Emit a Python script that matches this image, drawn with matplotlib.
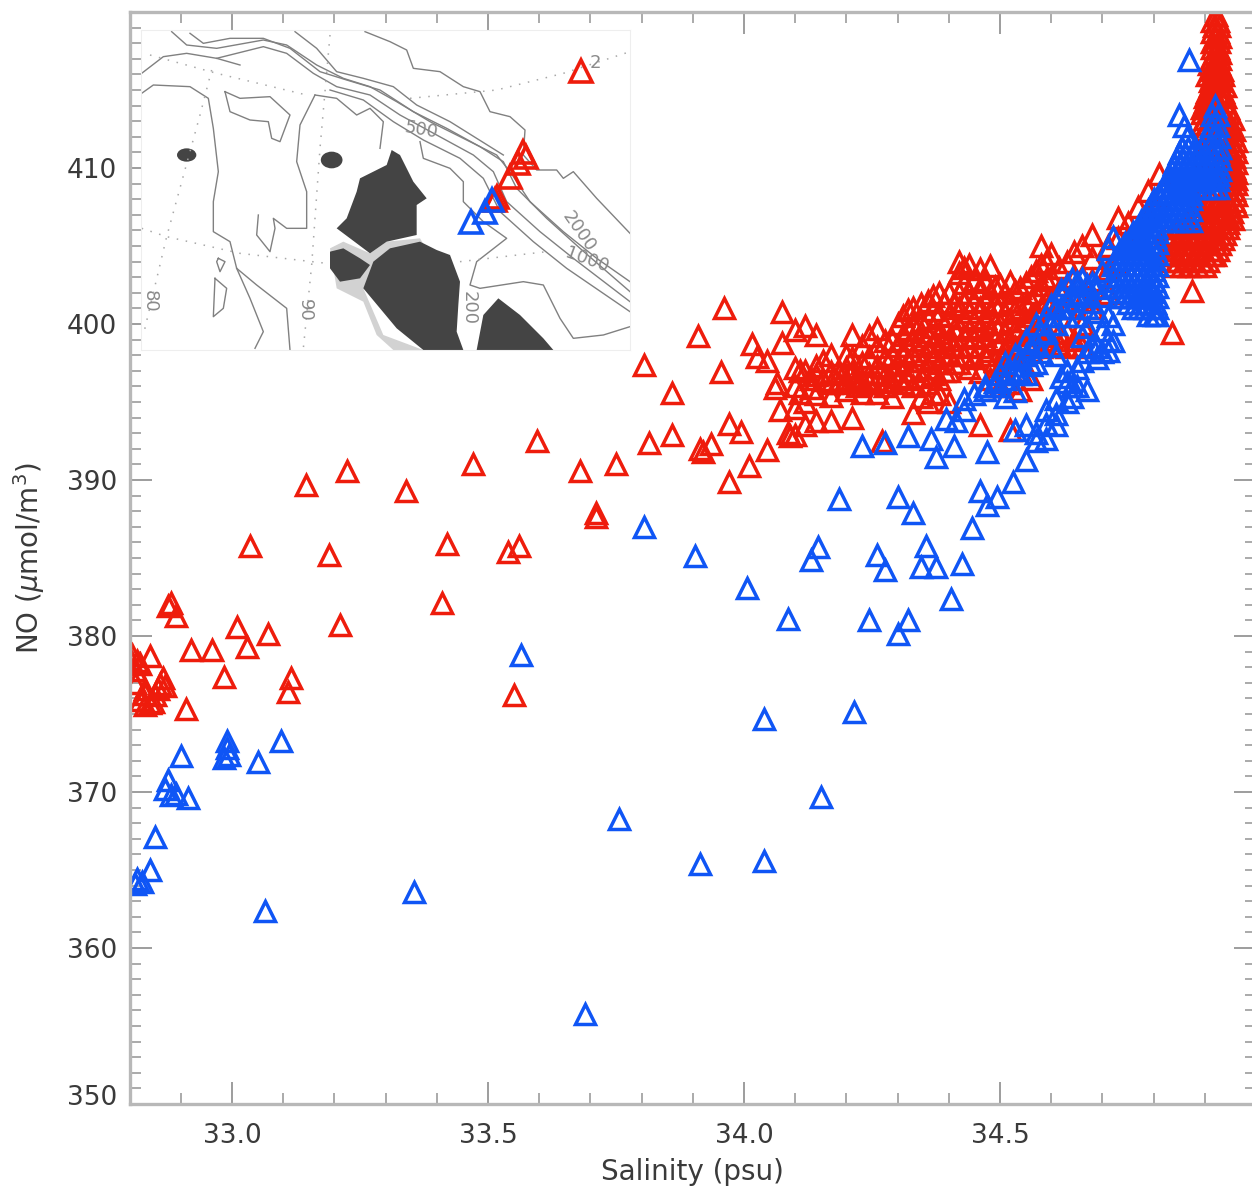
import matplotlib
matplotlib.use("Agg")
import matplotlib.pyplot as plt
from matplotlib.patches import Ellipse
from matplotlib.ticker import FixedLocator, MultipleLocator, FormatStrFormatter
from matplotlib.transforms import ScaledTranslation

RED = "#ee1c0c"
BLUE = "#0f55f5"
INK = "#3a3a3a"
AXIS = "#b8b8b8"

x_ticks = [33.0, 33.5, 34.0, 34.5]
y_ticks = [350, 360, 370, 380, 390, 400, 410]

# scattered stations
red_sal = [33.035, 33.145, 33.225, 33.19, 33.34, 33.42, 33.41, 33.21, 33.47, 33.54, 33.56, 33.595, 33.55,
           33.68, 33.75, 33.71, 33.71, 33.805, 33.815, 33.86, 33.86, 33.91, 33.915, 33.92, 33.935, 33.96,
           33.955, 33.97, 33.97, 33.995, 34.01, 34.015, 34.025, 34.045, 34.045, 34.075, 34.075, 34.06, 34.07,
           34.065, 34.085, 34.09, 34.875, 34.835, 34.955, 34.27,
           32.875, 32.88, 32.89, 33.01, 33.07, 32.92, 32.96, 33.03, 32.985, 33.115, 33.11, 32.91,
           32.805, 32.84, 32.815, 32.81, 32.83, 32.865, 32.87, 32.82, 32.83, 32.84, 32.85, 32.86, 32.83, 32.82,
           32.8, 32.81, 32.845, 32.855]
red_no = [385.8, 389.7, 390.6, 385.2, 389.3, 385.9, 382.1, 380.7, 391.0, 385.4, 385.8, 392.5, 376.2,
          390.6, 391.0, 387.9, 387.6, 397.4, 392.4, 395.6, 392.9, 399.2, 392.0, 391.8, 392.3, 401.0,
          396.9, 389.9, 393.6, 393.1, 390.9, 398.7, 397.9, 397.6, 391.9, 400.8, 398.8, 395.9, 394.5,
          396.2, 393.0, 392.8, 402.1, 399.4, 406.7, 392.5,
          381.9, 382.1, 381.3, 380.6, 380.1, 379.1, 379.1, 379.3, 377.4, 377.3, 376.4, 375.3,
          378.8, 378.7, 378.4, 377.0, 376.6, 377.3, 376.8, 375.9, 375.6, 375.7, 376.2, 376.9, 376.3, 378.2,
          378.5, 377.8, 375.8, 376.6]

blue_sal = [34.87, 33.095, 33.05, 33.065, 33.355, 33.565, 33.755, 33.69, 33.915, 34.04, 34.15, 34.04, 34.215,
            33.805, 33.905, 34.005, 34.085, 34.13, 34.145, 34.185, 34.245, 34.26, 34.275, 34.3, 34.32, 34.3,
            34.33, 34.355, 34.345, 34.375, 34.425, 34.405, 34.445, 34.475, 34.46, 34.495, 34.525, 34.55,
            34.475, 34.23, 34.275, 34.32, 34.365, 34.375, 34.41, 34.395, 34.415,
            32.81, 32.815, 32.825, 32.84, 32.85, 32.9, 32.87, 32.875, 32.88, 32.89, 32.915,
            32.99, 32.99, 32.995, 32.985]
blue_no = [416.9, 373.3, 371.9, 362.4, 363.6, 378.8, 368.3, 355.8, 365.4, 365.6, 369.7, 374.7, 375.1,
           387.0, 385.1, 383.1, 381.1, 384.9, 385.7, 388.8, 381.0, 385.2, 384.2, 380.1, 381.0, 388.9,
           387.9, 385.8, 384.4, 384.4, 384.6, 382.4, 386.9, 388.4, 389.3, 388.9, 389.9, 391.3,
           391.8, 392.2, 392.4, 392.8, 392.6, 391.5, 392.2, 393.9, 393.8,
           364.1, 364.4, 364.2, 365.0, 367.1, 372.3, 370.2, 370.8, 369.8, 369.9, 369.6,
           373.3, 372.8, 372.4, 372.2]

# middle cloud, one salinity with the NO values seen above it
red_mid_sal = [34.10, 34.11, 34.12, 34.13, 34.14, 34.155, 34.17, 34.185, 34.20, 34.21, 34.22, 34.23, 34.245, 34.26,
               34.275, 34.29, 34.30, 34.31, 34.32, 34.33, 34.345, 34.36, 34.37, 34.38, 34.39, 34.40, 34.41,
               34.42, 34.43, 34.44, 34.45, 34.46, 34.47, 34.48, 34.49, 34.50, 34.51, 34.52, 34.53, 34.54,
               34.55, 34.56, 34.57, 34.58, 34.59, 34.60, 34.615, 34.63, 34.645, 34.66, 34.68, 34.71, 34.73,
               34.75, 34.77, 34.79, 34.81]
red_mid_no = [[399.6, 397.2, 396.0, 394.6, 392.9],
              [397.0, 395.6],
              [399.9, 397.0, 395.0, 393.5],
              [396.5, 395.9],
              [399.3, 397.3, 396.7, 395.5, 393.8],
              [397.6, 396.4],
              [398.0, 396.9, 396.2, 395.4, 393.8],
              [396.8, 396.2],
              [398.0, 397.2, 396.5, 396.3, 395.8],
              [399.3, 397.8, 396.9, 394.0],
              [396.6, 396.0],
              [398.6, 397.5, 396.4, 395.6],
              [399.2, 397.9, 396.8, 396.2],
              [399.7, 398.5, 397.3, 396.4, 395.6],
              [398.9, 397.8, 396.7, 396.0],
              [399.0, 398.0, 397.0, 396.3, 395.3],
              [400.0, 398.6, 397.4, 396.6],
              [400.5, 399.3, 398.2, 397.0, 396.2],
              [400.9, 399.7, 398.6, 397.6, 396.5],
              [401.0, 400.0, 399.0, 398.0, 397.0, 396.0, 394.3],
              [401.3, 400.2, 399.5, 398.6, 397.6, 396.6, 395.3],
              [401.5, 400.4, 399.2, 398.3, 397.2, 396.2, 395.0],
              [401.8, 400.9, 399.8, 398.8, 397.8, 396.8, 395.6],
              [402.0, 400.6, 399.4, 398.5, 397.5, 396.5, 395.5],
              [401.4, 400.0, 399.0, 398.0, 397.0],
              [402.0, 400.5, 399.0, 398.0, 397.0, 395.0],
              [401.2, 399.7, 398.6, 397.5],
              [404.0, 403.3, 402.0, 401.0, 399.8, 398.5, 397.5],
              [403.6, 402.6, 401.5, 400.4, 399.2, 398.0],
              [403.8, 402.0, 400.8, 399.6, 398.6, 397.2],
              [402.8, 401.4, 400.2, 399.1, 397.8],
              [403.5, 402.3, 401.0, 399.8, 398.5, 396.9, 393.5],
              [402.7, 401.5, 400.4, 399.2, 398.0],
              [403.7, 402.0, 400.8, 399.6, 398.3, 396.5],
              [402.4, 401.2, 400.0, 399.0, 397.6],
              [402.5, 401.3, 400.0, 398.8, 397.3, 396.0],
              [402.0, 400.7, 399.5, 398.4],
              [402.7, 401.5, 400.2, 399.0, 397.8, 396.2, 393.2],
              [402.1, 400.9, 399.6, 398.5],
              [402.3, 401.0, 399.8, 398.7, 397.0, 395.8],
              [402.6, 401.3, 400.2, 399.0],
              [403.0, 401.5, 400.5, 399.3, 398.3, 396.5],
              [403.4, 402.0, 400.8, 399.5],
              [405.0, 403.8, 402.5, 401.0, 399.7, 398.5],
              [404.0, 402.8, 401.4, 399.2, 398.6],
              [404.5, 403.0, 401.5, 400.5, 399.0],
              [403.6, 402.2, 399.4, 398.7],
              [404.0, 402.5, 401.0, 399.5, 398.5],
              [404.6, 403.0, 399.0, 398.6],
              [405.0, 403.0, 401.5, 400.0, 398.5],
              [405.7, 404.2, 402.8, 401.0],
              [405.0, 403.5, 402.0],
              [406.8, 405.5, 404.0],
              [406.5, 405.5],
              [407.5, 406.0],
              [408.5, 407.0],
              [409.6, 408.3]]

blue_mid_sal = [34.43, 34.45, 34.47, 34.49, 34.50, 34.51, 34.52, 34.53, 34.54, 34.55, 34.56, 34.57, 34.58, 34.59,
                34.60, 34.61, 34.62, 34.63, 34.64, 34.65, 34.66, 34.67, 34.68, 34.69, 34.70, 34.71, 34.72]
blue_mid_no = [[395.2, 394.5],
               [395.5],
               [396.0, 395.8],
               [396.3, 396.0],
               [396.8],
               [397.5, 396.5, 395.3],
               [397.0],
               [398.0, 397.0, 395.7, 393.2],
               [397.8, 396.8],
               [399.0, 398.0, 396.8, 393.5],
               [398.5, 397.4],
               [400.0, 398.8, 397.5, 393.0, 392.5],
               [399.4, 398.2],
               [400.5, 399.5, 394.5, 393.6, 392.6],
               [401.2, 400.0, 398.6],
               [401.0, 400.0, 398.0, 395.2, 394.2, 393.5],
               [402.2, 401.0, 396.6],
               [402.5, 401.5, 400.5, 397.0, 396.3, 395.0],
               [402.9, 401.9, 396.0, 395.3],
               [402.7, 401.8, 400.5, 397.2, 396.0],
               [402.9, 402.0, 399.2, 397.6],
               [402.5, 401.0, 399.8, 398.2, 395.8],
               [402.6, 401.4, 398.6],
               [402.3, 400.8, 398.5, 397.8],
               [403.4, 401.8, 399.6, 398.2],
               [404.8, 400.5, 399.0, 398.3],
               [405.6, 400.0, 398.9]]

# saturated parts, one NO with the salinities seen along it
red_core_no = [419.8, 419.45, 419.1, 418.75, 418.4, 418.05, 417.7, 417.35, 417.0, 416.65, 416.3, 415.95, 415.6,
               415.25, 414.9, 414.55, 414.2, 413.85, 413.5, 413.15, 412.8, 412.45, 412.1, 411.75, 411.4, 411.05,
               410.7, 410.35, 410.0, 409.65, 409.3, 408.95, 408.6, 408.25, 407.9, 407.55, 407.2, 406.85, 406.5,
               406.15, 405.8, 405.45, 405.1, 404.75, 404.4, 404.05, 403.7]
red_core_sal = [[34.922],
                [34.915, 34.926],
                [34.918, 34.928],
                [34.915, 34.925],
                [34.92, 34.93],
                [34.915, 34.928],
                [34.915, 34.925],
                [34.92, 34.93],
                [34.912, 34.922, 34.93],
                [34.908, 34.918, 34.928],
                [34.915, 34.925, 34.933],
                [34.905, 34.915, 34.925, 34.935],
                [34.91, 34.92, 34.93],
                [34.91, 34.92, 34.93, 34.94],
                [34.905, 34.915, 34.925, 34.935],
                [34.90, 34.91, 34.92, 34.93, 34.94],
                [34.90, 34.912, 34.925, 34.938],
                [34.895, 34.905, 34.915, 34.93, 34.945],
                [34.895, 34.908, 34.92, 34.935, 34.948],
                [34.90, 34.912, 34.928, 34.942, 34.955],
                [34.895, 34.905, 34.92, 34.935, 34.95],
                [34.90, 34.945, 34.958],
                [34.895, 34.91, 34.94, 34.955],
                [34.90, 34.95, 34.96],
                [34.895, 34.905, 34.945, 34.957],
                [34.95, 34.96],
                [34.895, 34.94, 34.952, 34.958],
                [34.948, 34.96],
                [34.945, 34.958],
                [34.95, 34.96],
                [34.94, 34.952, 34.96],
                [34.948, 34.96],
                [34.945, 34.958],
                [34.95, 34.96],
                [34.885, 34.90, 34.915, 34.93, 34.945, 34.958],
                [34.89, 34.905, 34.92, 34.935, 34.95, 34.96],
                [34.88, 34.895, 34.91, 34.925, 34.94, 34.953],
                [34.885, 34.90, 34.915, 34.93, 34.945],
                [34.885, 34.90, 34.915, 34.93, 34.945],
                [34.83, 34.845, 34.86, 34.875, 34.89, 34.905, 34.92, 34.935, 34.945],
                [34.825, 34.84, 34.855, 34.87, 34.885, 34.90, 34.915, 34.93, 34.94],
                [34.832, 34.847, 34.862, 34.877, 34.892, 34.907, 34.922, 34.935],
                [34.83, 34.845, 34.86, 34.875, 34.89, 34.905, 34.92, 34.93],
                [34.822, 34.837, 34.852, 34.867, 34.882, 34.897, 34.912, 34.925],
                [34.825, 34.84, 34.855, 34.87, 34.885, 34.90, 34.915, 34.92],
                [34.832, 34.847, 34.862, 34.877, 34.892, 34.907],
                [34.84, 34.855, 34.87, 34.885, 34.90]]

blue_core_no = [414.0, 413.4, 412.7, 412.0, 411.3, 410.95, 410.6, 410.25, 409.9, 409.55, 409.2, 408.7, 408.35, 408.0,
                407.65, 407.3, 406.95, 406.6, 406.25, 405.9, 405.55, 405.2, 404.85, 404.5, 404.15, 403.8, 403.45,
                403.1, 402.75, 402.4, 402.05, 401.7, 401.35, 401.0, 400.6]
blue_core_sal = [[34.92],
                 [34.85, 34.915, 34.925],
                 [34.86, 34.912, 34.925],
                 [34.865, 34.905, 34.918, 34.928],
                 [34.855, 34.868, 34.88, 34.895, 34.908, 34.92, 34.93],
                 [34.85, 34.862, 34.875, 34.888, 34.90, 34.914, 34.926],
                 [34.845, 34.857, 34.869, 34.881, 34.893, 34.905, 34.917, 34.929],
                 [34.84, 34.851, 34.863, 34.875, 34.887, 34.899, 34.911, 34.923],
                 [34.835, 34.847, 34.859, 34.871, 34.883, 34.895, 34.907, 34.919, 34.93],
                 [34.83, 34.841, 34.853, 34.865, 34.877, 34.889, 34.901, 34.913, 34.925],
                 [34.83, 34.842, 34.854, 34.866, 34.878, 34.89, 34.902, 34.914, 34.925],
                 [34.82, 34.832, 34.844, 34.856, 34.868, 34.88, 34.892, 34.904, 34.916, 34.925],
                 [34.81, 34.826, 34.838, 34.85, 34.862, 34.873],
                 [34.80, 34.812, 34.824, 34.836, 34.848, 34.86, 34.873],
                 [34.795, 34.806, 34.818, 34.83, 34.842, 34.854, 34.866],
                 [34.79, 34.802, 34.814, 34.826, 34.838, 34.85, 34.862, 34.873],
                 [34.785, 34.796, 34.808, 34.82, 34.832, 34.844, 34.856, 34.868],
                 [34.775, 34.787, 34.799, 34.811, 34.823, 34.835, 34.847, 34.859, 34.873],
                 [34.77, 34.781, 34.793, 34.805],
                 [34.76, 34.772, 34.784, 34.796, 34.807],
                 [34.755, 34.766, 34.778, 34.79, 34.802],
                 [34.745, 34.757, 34.769, 34.781, 34.793, 34.807],
                 [34.74, 34.751, 34.763, 34.775, 34.787, 34.80],
                 [34.73, 34.742, 34.754, 34.766, 34.778, 34.79, 34.807],
                 [34.725, 34.736, 34.748, 34.76, 34.772, 34.784, 34.796],
                 [34.72, 34.732, 34.744, 34.756, 34.768, 34.78, 34.792, 34.807],
                 [34.726, 34.738, 34.75, 34.762, 34.774, 34.786, 34.80],
                 [34.72, 34.732, 34.744, 34.756, 34.768, 34.78, 34.792, 34.807],
                 [34.726, 34.738, 34.75, 34.762, 34.774, 34.786, 34.80],
                 [34.72, 34.732, 34.744, 34.756, 34.768, 34.78, 34.792, 34.807],
                 [34.736, 34.748, 34.76, 34.772, 34.784, 34.796],
                 [34.73, 34.742, 34.754, 34.766, 34.778, 34.79, 34.807],
                 [34.75, 34.766, 34.778, 34.79, 34.802],
                 [34.76, 34.772, 34.784, 34.796, 34.807],
                 [34.79, 34.80, 34.807]]

# inset map, in its own sheet coordinates
map_red_x = [1352, 1180, 1188, 1165, 1140, 1100, 1095]
map_red_y = [168, 410, 425, 445, 485, 545, 555]
map_blue_x = [1023, 1065, 1085]
map_blue_y = [620, 590, 555]

coast_lines = [
    [(35, 175), (100, 125), (170, 115), (260, 130), (330, 150)],
    [(125, 50), (170, 90), (260, 100), (400, 75), (470, 90), (560, 150), (640, 190), (720, 215), (800, 260),
     (900, 320), (1000, 370), (1100, 420), (1140, 470), (1200, 560), (1300, 650), (1400, 730), (1500, 800)],
    [(180, 55), (220, 85), (300, 70), (400, 70), (480, 100), (570, 170), (650, 195), (750, 225), (850, 290),
     (950, 340), (1050, 395), (1120, 440), (1160, 520), (1250, 610), (1350, 700), (1500, 830)],
    [(495, 50), (560, 100), (620, 170), (700, 190), (790, 215), (860, 270), (960, 320), (1040, 370), (1120, 420)],
    [(260, 130), (400, 95), (470, 115), (550, 175), (620, 215), (720, 240), (810, 300), (920, 360), (1030, 420),
     (1090, 470), (1130, 560), (1230, 650), (1330, 730), (1500, 860)],
    [(600, 225), (700, 255), (790, 320), (880, 375), (990, 430), (1060, 490), (1110, 590), (1210, 680), (1310, 760),
     (1500, 890)],
    [(705, 50), (780, 80), (830, 105), (850, 160), (930, 170), (1000, 215), (1050, 230), (1080, 290), (1140, 305),
     (1185, 345), (1180, 420), (1220, 465), (1280, 465), (1300, 490), (1330, 470), (1400, 550), (1500, 655)],
    [(35, 235), (70, 210), (180, 215), (235, 250), (250, 340), (265, 470), (250, 560), (250, 650), (300, 680),
     (320, 760), (380, 810), (470, 880), (480, 1005)],
    [(555, 240), (510, 330), (500, 440), (530, 530), (530, 640), (470, 640), (430, 610), (435, 640), (420, 710),
     (380, 660), (385, 600)],
    [(555, 240), (620, 250), (680, 300), (720, 280), (760, 320), (750, 400)],
    [(285, 230), (330, 250), (420, 245), (480, 300), (450, 380), (425, 370), (415, 320), (360, 315), (300, 290),
     (285, 230)],
    [(870, 380), (880, 430), (960, 460), (1000, 500), (1000, 560), (1060, 620), (1130, 670), (1040, 740),
     (1020, 810), (1050, 820), (1180, 800), (1240, 810), (1290, 910), (1330, 970), (1420, 960), (1500, 935)],
    [(320, 760), (360, 850), (400, 950), (375, 1000)],
    [(265, 730), (285, 740), (270, 770), (260, 740), (265, 730)],
    [(255, 790), (290, 820), (280, 880), (250, 905), (255, 790)],
]
light_land = [(600, 700), (640, 680), (720, 715), (770, 680), (870, 670), (900, 720), (920, 760), (700, 820),
              (760, 960), (880, 1005), (790, 1005), (740, 960), (700, 860), (620, 820)]
dark_land = [
    [(785, 405), (810, 420), (850, 500), (890, 550), (860, 570), (860, 660), (770, 680), (720, 715), (660, 670),
     (620, 640), (650, 610), (680, 530), (690, 490), (770, 450)],
    [(640, 700), (690, 730), (720, 750), (690, 790), (630, 800), (600, 760), (600, 710)],
    [(870, 680), (920, 705), (960, 720), (990, 800), (985, 870), (980, 950), (1000, 1005), (880, 1005), (800, 940),
     (750, 880), (700, 820), (730, 740), (780, 700)],
    [(1105, 850), (1170, 900), (1240, 970), (1270, 1005), (1040, 1005), (1060, 900)],
]
graticule = [
    [(60, 120), (260, 175), (530, 240)],
    [(840, 250), (1100, 225), (1300, 175), (1500, 110)],
    [(35, 640), (110, 665), (330, 715), (590, 745)],
    [(990, 740), (1250, 710)],
    [(245, 165), (210, 300), (110, 665), (40, 960)],
    [(600, 60), (570, 400), (545, 750), (520, 1000)],
]


def flat_columns(sal, no_lists):
    xs, ys = [], []
    for s, values in zip(sal, no_lists):
        xs += [s] * len(values)
        ys += values
    return xs, ys


def flat_rows(no, sal_lists):
    xs, ys = [], []
    for n, values in zip(no, sal_lists):
        xs += values
        ys += [n] * len(values)
    return xs, ys


def triangles(ax, x, y, color, ms=14.5, mew=2.5):
    ax.plot(x, y, ls="none", marker="^", ms=ms, mfc="none", mec=color, mew=mew)


W, H = 1252, 1191
fig = plt.figure(figsize=(W / 100, H / 100), dpi=100)
ax = fig.add_axes([129.6 / W, 1 - 1104 / H, (1256 - 129.6) / W, 1092 / H])

rx, ry = flat_columns(red_mid_sal, red_mid_no)
triangles(ax, red_sal + rx, red_no + ry, RED)
rx, ry = flat_rows(red_core_no, red_core_sal)
triangles(ax, rx, ry, RED)
bx, by = flat_columns(blue_mid_sal, blue_mid_no)
triangles(ax, blue_sal + bx, blue_no + by, BLUE)
bx, by = flat_rows(blue_core_no, blue_core_sal)
triangles(ax, bx, by, BLUE)

ax.set_xlim(32.8, 35.0)
ax.set_ylim(350, 420)
ax.xaxis.set_major_locator(FixedLocator(x_ticks))
ax.xaxis.set_minor_locator(MultipleLocator(0.1))
ax.yaxis.set_major_locator(FixedLocator(y_ticks))
ax.yaxis.set_minor_locator(MultipleLocator(1))
ax.xaxis.set_major_formatter(FormatStrFormatter("%.1f"))
ax.yaxis.set_major_formatter(FormatStrFormatter("%d"))
ax.tick_params(which="major", direction="in", top=True, right=True, length=16, width=1.2, color="#8c8c8c",
               labelsize=19, labelcolor=INK, pad=14)
ax.tick_params(which="minor", direction="in", top=True, right=True, length=8, width=1.2, color="#9c9c9c")
ax.tick_params(axis="y", which="major", pad=9)
for spine in ax.spines.values():
    spine.set_color(AXIS)
    spine.set_linewidth(2.4)
ax.set_xlabel("Salinity (psu)", fontsize=20, color=INK, labelpad=6)
ax.set_ylabel("NO ($\\mu$mol/m$^3$)", fontsize=20, color=INK, labelpad=14)

# the 350 label sits a little above its tick in the reference
fig.canvas.draw()
low_label = ax.yaxis.get_major_ticks()[0].label1
low_label.set_transform(low_label.get_transform() + ScaledTranslation(0, 0.09, fig.dpi_scale_trans))

# map sheet in the upper left corner
inset = fig.add_axes([141 / W, 1 - 350 / H, 489 / W, 320 / H])
inset.set_xlim(33, 1500)
inset.set_ylim(1005, 45)
inset.set_xticks([])
inset.set_yticks([])
for spine in inset.spines.values():
    spine.set_color("#eeeeee")
inset.fill(*zip(*light_land), color="#d2d2d2", lw=0)
for land in dark_land:
    inset.fill(*zip(*land), color="#444444", lw=0)
for c_x, c_y, c_w, c_h in [(170, 420, 58, 40), (605, 435, 65, 50)]:
    inset.add_patch(Ellipse((c_x, c_y), c_w, c_h, color="#444444", lw=0))
for line in coast_lines:
    inset.plot(*zip(*line), color="#808080", lw=1.0)
for line in graticule:
    inset.plot(*zip(*line), color="#a8a8a8", lw=1.1, ls=(0, (1, 5)))
map_labels = [(60, 860, "80", -90), (525, 885, "90", -90), (1345, 650, "2000", -55), (1370, 735, "1000", -20),
              (875, 345, "500", -10), (1395, 145, "2", 0), (1015, 880, "200", -90)]
for t_x, t_y, t_s, t_r in map_labels:
    inset.text(t_x, t_y, t_s, rotation=t_r, color="#8a8a8a", fontsize=13, ha="center", va="center")
triangles(inset, map_red_x, map_red_y, RED, ms=16, mew=2.6)
triangles(inset, map_blue_x, map_blue_y, BLUE, ms=16, mew=2.6)

fig.savefig("out.png", dpi=100)
